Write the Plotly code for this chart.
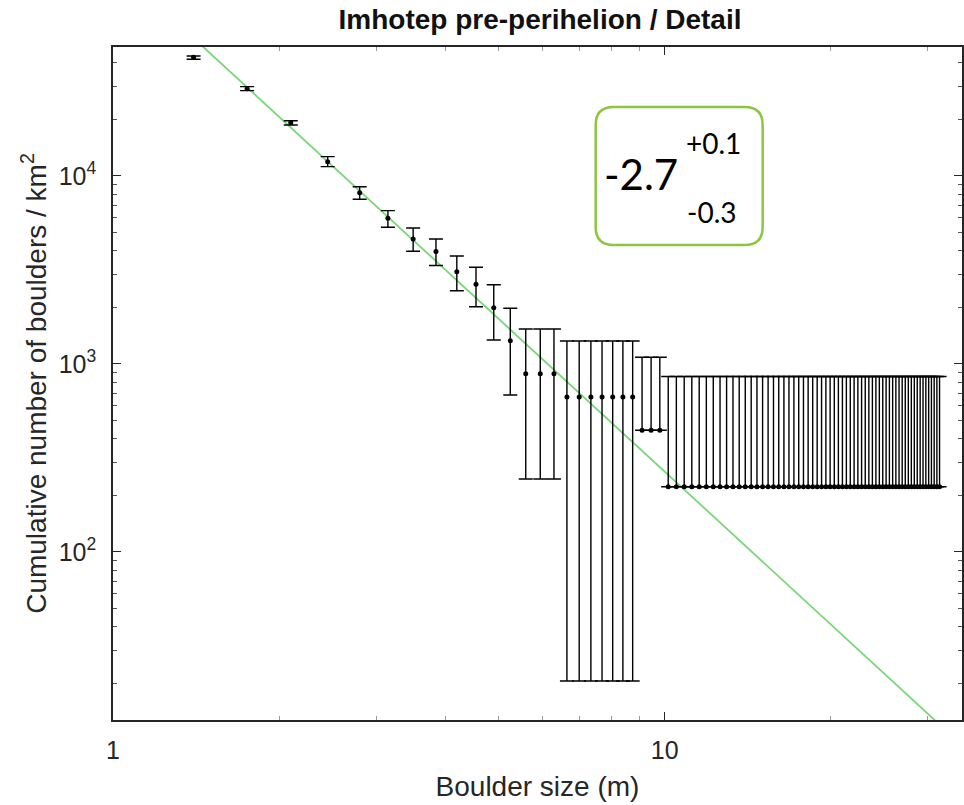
import plotly.graph_objects as go

# ---------------- data ----------------
size_m = [
    1.4, 1.75, 2.1, 2.45, 2.8, 3.15, 3.5, 3.85, 4.2, 4.55,
    4.9, 5.25, 5.6, 5.95, 6.3, 6.65, 7.0, 7.35, 7.7, 8.05,
    8.4, 8.75, 9.1, 9.45, 9.8,
    10.15, 10.5, 10.85, 11.2, 11.55, 11.9, 12.25, 12.6, 12.95, 13.3,
    13.65, 14.0, 14.35, 14.7, 15.05, 15.4, 15.75, 16.1, 16.45, 16.8,
    17.15, 17.5, 17.85, 18.2, 18.55, 18.9, 19.25, 19.6, 19.95, 20.3,
    20.65, 21.0, 21.35, 21.7, 22.05, 22.4, 22.75, 23.1, 23.45, 23.8,
    24.15, 24.5, 24.85, 25.2, 25.55, 25.9, 26.25, 26.6, 26.95, 27.3,
    27.65, 28.0, 28.35, 28.7, 29.05, 29.4, 29.75, 30.1, 30.45, 30.8,
    31.15, 31.5,
]

density = [
    42800, 29140, 19210, 11920, 8150, 5957, 4623, 3967, 3097, 2654,
    1993, 1330, 888, 888, 888, 667.6, 667.6, 667.6, 667.6, 667.6,
    667.6, 667.6, 444, 444, 444,
    222.5, 222.5, 222.5, 222.5, 222.5, 222.5, 222.5, 222.5, 222.5, 222.5,
    222.5, 222.5, 222.5, 222.5, 222.5, 222.5, 222.5, 222.5, 222.5, 222.5,
    222.5, 222.5, 222.5, 222.5, 222.5, 222.5, 222.5, 222.5, 222.5, 222.5,
    222.5, 222.5, 222.5, 222.5, 222.5, 222.5, 222.5, 222.5, 222.5, 222.5,
    222.5, 222.5, 222.5, 222.5, 222.5, 222.5, 222.5, 222.5, 222.5, 222.5,
    222.5, 222.5, 222.5, 222.5, 222.5, 222.5, 222.5, 222.5, 222.5, 222.5,
    222.5, 222.5,
]

upper_bound = [
    43470, 29860, 19680, 12670, 8770, 6538, 5290, 4623, 3754, 3268,
    2641, 1979, 1536, 1536, 1536, 1326, 1326, 1326, 1326, 1326,
    1326, 1326, 1085, 1085, 1085,
    858, 858, 858, 858, 858, 858, 858, 858, 858, 858,
    858, 858, 858, 858, 858, 858, 858, 858, 858, 858,
    858, 858, 858, 858, 858, 858, 858, 858, 858, 858,
    858, 858, 858, 858, 858, 858, 858, 858, 858, 858,
    858, 858, 858, 858, 858, 858, 858, 858, 858, 858,
    858, 858, 858, 858, 858, 858, 858, 858, 858, 858,
    858, 858,
]

# None = lower bound is zero (not drawable on a log axis)
lower_bound = [
    41760, 28430, 18670, 11210, 7517, 5335, 3977, 3342, 2454, 2017,
    1342, 684, 244.6, 244.6, 244.6, 20.6, 20.6, 20.6, 20.6, 20.6,
    20.6, 20.6, None, None, None,
    None, None, None, None, None, None, None, None, None, None,
    None, None, None, None, None, None, None, None, None, None,
    None, None, None, None, None, None, None, None, None, None,
    None, None, None, None, None, None, None, None, None, None,
    None, None, None, None, None, None, None, None, None, None,
    None, None, None, None, None, None, None, None, None, None,
    None, None,
]

fit_slope = -2.7
fit_coef = 1.342e5
fit_x = [1.0, 40.0]

x_tick_vals = [1, 10]
x_tick_text = ["1", "10"]
x_minor_vals = [2, 3, 4, 5, 6, 7, 8, 9, 20, 30]
y_tick_vals = [100, 1000, 10000]
y_tick_text = ["10<sup>2</sup>", "10<sup>3</sup>", "10<sup>4</sup>"]
y_minor_vals = [20, 30, 40, 50, 60, 70, 80, 90,
                200, 300, 400, 500, 600, 700, 800, 900,
                2000, 3000, 4000, 5000, 6000, 7000, 8000, 9000,
                20000, 30000, 40000, 50000]

# ---------------- figure ----------------
err_plus = [u - y for u, y in zip(upper_bound, density)]
err_minus = [(y - lo) if lo is not None else 0 for lo, y in zip(lower_bound, density)]
fit_y = [fit_coef * xv ** fit_slope for xv in fit_x]

fig = go.Figure()

fig.add_trace(go.Scatter(
    x=fit_x, y=fit_y, mode="lines",
    line=dict(color="#78d878", width=1.8),
    hoverinfo="skip", showlegend=False,
))

fig.add_trace(go.Scatter(
    x=size_m, y=density, mode="markers",
    marker=dict(color="black", size=5),
    error_y=dict(type="data", symmetric=False, array=err_plus,
                 arrayminus=err_minus, color="black", thickness=1.4, width=7),
    showlegend=False,
))

W, H = 964, 805
L, R, T, B = 113, 0, 47, 85
pw, ph = W - L - R, H - T - B

def px(xp):
    return (xp - L) / pw

def py(yp):
    return (H - B - yp) / ph

# rounded box (pixel-sized path around an anchor)
bw, bh, rr = 167, 138, 18
hw, hh = bw / 2, bh / 2
path = (f"M {-hw + rr},{-hh} L {hw - rr},{-hh} Q {hw},{-hh} {hw},{-hh + rr} "
        f"L {hw},{hh - rr} Q {hw},{hh} {hw - rr},{hh} L {-hw + rr},{hh} "
        f"Q {-hw},{hh} {-hw},{hh - rr} L {-hw},{-hh + rr} Q {-hw},{-hh} {-hw + rr},{-hh} Z")
fig.add_shape(type="path", xref="paper", yref="paper",
              xsizemode="pixel", ysizemode="pixel",
              xanchor=px(680.5), yanchor=py(176), path=path,
              line=dict(color="#8cc63f", width=2.5), fillcolor="white", layer="above")

ann_font = "Lato, 'Open Sans', sans-serif"
fig.add_annotation(x=px(642), y=py(174), xref="paper", yref="paper", text="-2.7",
                   showarrow=False, font=dict(family=ann_font, size=42, color="black"),
                   xanchor="center", yanchor="middle")
fig.add_annotation(x=px(715), y=py(143), xref="paper", yref="paper", text="+0.1",
                   showarrow=False, font=dict(family=ann_font, size=28, color="black"),
                   xanchor="center", yanchor="middle")
fig.add_annotation(x=px(713), y=py(212), xref="paper", yref="paper", text="-0.3",
                   showarrow=False, font=dict(family=ann_font, size=28, color="black"),
                   xanchor="center", yanchor="middle")

axis_font = "'Liberation Sans', Arial, sans-serif"
fig.update_layout(
    width=W, height=H,
    margin=dict(l=L, r=R, t=T, b=B),
    paper_bgcolor="white", plot_bgcolor="white",
    title=dict(text="<b>Imhotep pre-perihelion / Detail</b>", x=(337 + 743) / 2 / W,
               xanchor="center", y=1 - 19 / H, yanchor="middle",
               font=dict(family=axis_font, size=28, color="#111111")),
    font=dict(family=axis_font, color="#262626"),
)

fig.update_xaxes(
    type="log", range=[0, 1.539],
    tickmode="array", tickvals=x_tick_vals, ticktext=x_tick_text,
    ticks="inside", ticklen=8, tickwidth=1, tickcolor="#262626",
    showline=True, linecolor="#262626", linewidth=1.5, mirror="ticks",
    showgrid=False, zeroline=False,
    tickfont=dict(size=25, color="#262626"),
    ticklabelstandoff=7,
    minor=dict(tickmode="array", tickvals=x_minor_vals, ticks="inside",
               ticklen=4, tickcolor="#9a9a9a", showgrid=False),
    title=dict(text="Boulder size (m)", font=dict(size=28, color="#262626"), standoff=14),
)

fig.update_yaxes(
    type="log", range=[1.1064, 4.686],
    tickmode="array", tickvals=y_tick_vals, ticktext=y_tick_text,
    ticks="inside", ticklen=8, tickwidth=1, tickcolor="#262626",
    showline=True, linecolor="#262626", linewidth=1.5, mirror="ticks",
    showgrid=False, zeroline=False,
    tickfont=dict(size=25, color="#262626"),
    ticklabelstandoff=10,
    minor=dict(tickmode="array", tickvals=y_minor_vals, ticks="inside",
               ticklen=4, tickcolor="#555555", showgrid=False),
    title=dict(text="Cumulative number of boulders / km<sup>2</sup>",
               font=dict(size=28, color="#262626"), standoff=4),
)

fig.write_html("out.html", config={"displayModeBar": False},
               post_script="document.body.style.margin='0px';")
